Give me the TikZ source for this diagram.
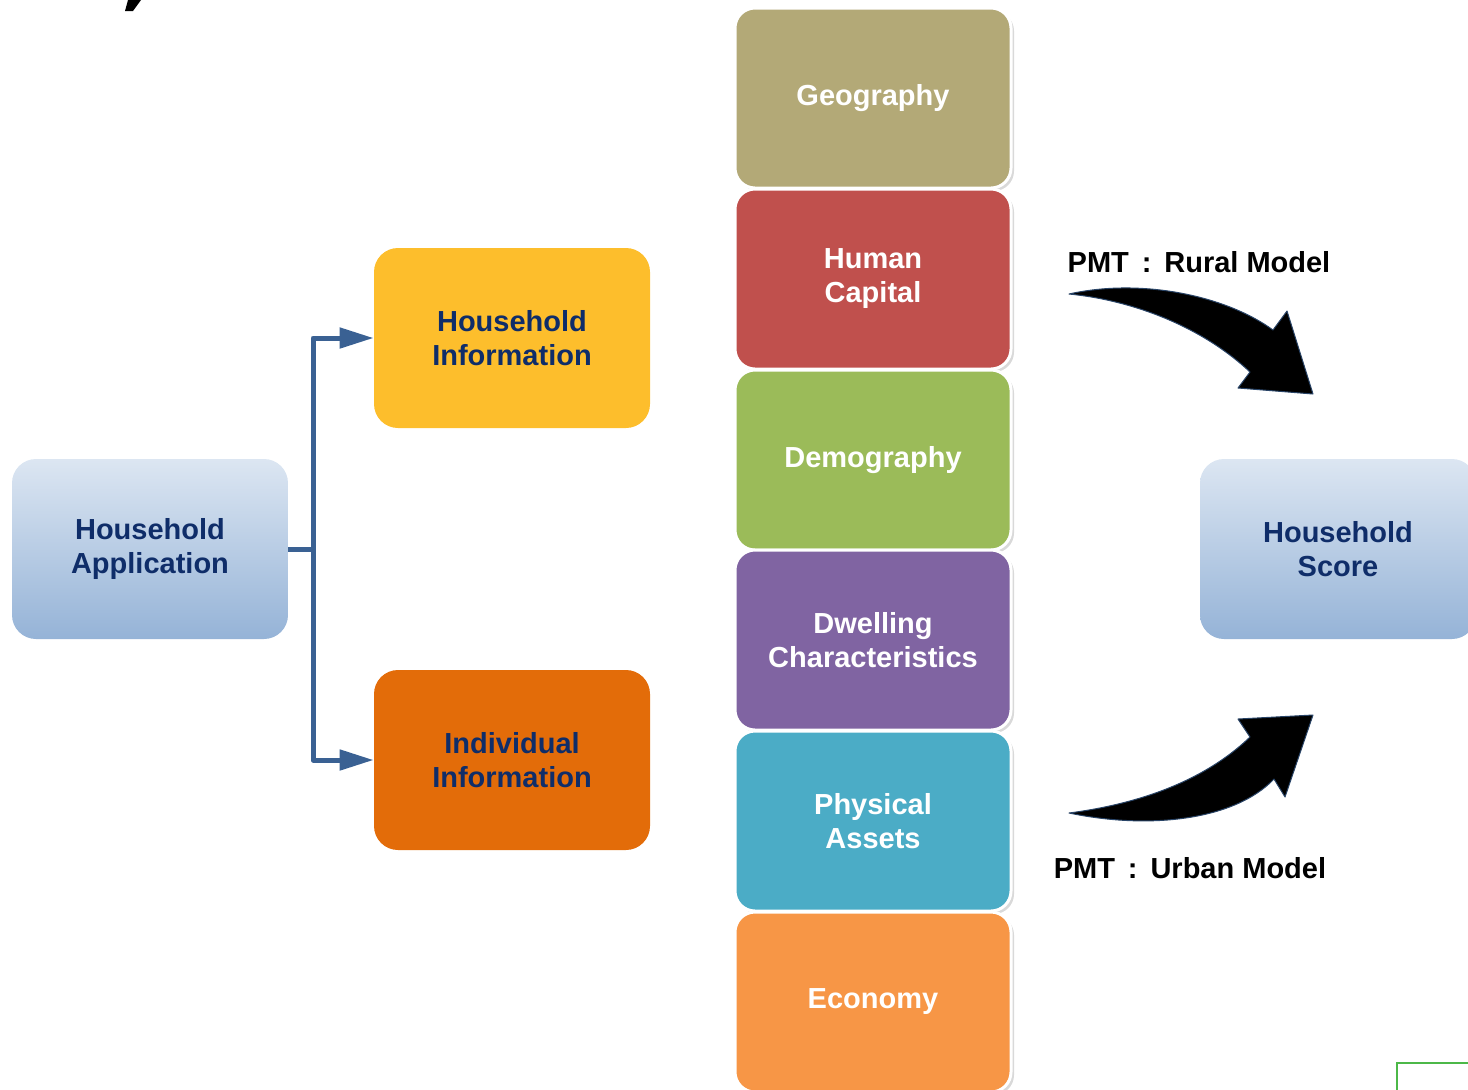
\documentclass[tikz,border=0pt]{standalone}
\usepackage{fontspec}
\setmainfont{Liberation Sans}
\usetikzlibrary{arrows.meta,shadows}
\definecolor{navy}{RGB}{15,45,105}
\definecolor{linkblue}{RGB}{58,97,147}
\definecolor{apptop}{RGB}{220,230,242}
\definecolor{appbot}{RGB}{149,179,215}
\definecolor{hhyellow}{RGB}{253,190,44}
\definecolor{indorange}{RGB}{227,108,9}
\definecolor{geokhaki}{RGB}{179,169,119}
\definecolor{capred}{RGB}{192,80,77}
\definecolor{demogreen}{RGB}{155,187,89}
\definecolor{dwellpurple}{RGB}{128,100,162}
\definecolor{physteal}{RGB}{75,172,198}
\definecolor{econorange}{RGB}{247,150,70}
\definecolor{framegreen}{RGB}{76,184,72}
\tikzset{%
	box/.style={
		rounded corners=12pt, minimum width=138pt, minimum height=90pt,
		inner sep=0pt, align=center, font=\fontsize{14.5}{17}\selectfont\bfseries
	},
	appbox/.style={box, top color=apptop, bottom color=appbot, text=navy},
	infobox/.style={box, fill=#1, text=navy},
	layer/.style={
		box, rounded corners=10pt, fill=#1, draw=white, line width=1.5pt, text=white,
		drop shadow={opacity=0.3, shadow xshift=1.5pt, shadow yshift=-1.5pt}
	},
	link/.style={draw=linkblue, line width=2.5pt, line join=round},
	bigarrow/.style={fill=black, draw=linkblue!70!black, line width=0.5pt, line join=round},
	modeltext/.style={font=\fontsize{14.5}{17}\selectfont\bfseries}
}

\begin{document}
\begin{tikzpicture}[x=0.5pt, y=-0.5pt]
	\useasboundingbox (0,0) rectangle (1468,1089);
	\clip (0,0) rectangle (1468,1089);

	% fragment of the cut-off title
	\fill (128,0) -- (141,0) -- (133,11) -- (125,11) -- cycle;

	% left side
	\node[appbox] (happ) at (150,549) {Household\\Application};
	\node[infobox=hhyellow] (hinfo) at (512,338) {Household\\Information};
	\node[infobox=indorange] (iinfo) at (512,760) {Individual\\Information};

	\coordinate (fork) at (313,549);
	\draw[link] (happ.east) -- (fork);
	\draw[link, -{Triangle[length=17pt, width=10pt]}] (fork) |- (hinfo.west);
	\draw[link, -{Triangle[length=17pt, width=10pt]}] (fork) |- (iinfo.west);

	% middle column
	\node[layer=geokhaki]    (geo)   at (873,98)   {Geography};
	\node[layer=capred]      (hcap)  at (873,279)  {Human\\Capital};
	\node[layer=demogreen]   (demo)  at (873,460)  {Demography};
	\node[layer=dwellpurple] (dwell) at (873,640)  {Dwelling\\Characteristics};
	\node[layer=physteal]    (phys)  at (873,821)  {Physical\\Assets};
	\node[layer=econorange]  (econ)  at (873,1002) {Economy};

	% right side
	\node[appbox] (hscore) at (1338,549) {Household\\Score};

	\node[modeltext] (rural) at (1199,262) {PMT\, : \,Rural Model};
	\node[modeltext] (urban) at (1190,868) {PMT\, : \,Urban Model};

	\draw[bigarrow] (1069,294) .. controls (1140,278) and (1225,295) .. (1273,330)
		-- (1287,311) -- (1313,394) -- (1238,388) -- (1250,372)
		.. controls (1200,325) and (1130,300) .. (1069,294) -- cycle;
	\draw[bigarrow] (1069,813) .. controls (1150,830) and (1235,820) .. (1274,779)
		-- (1285,797) -- (1313,715) -- (1238,719) -- (1250,737)
		.. controls (1200,785) and (1130,805) .. (1069,813) -- cycle;

	% corner of the next frame
	\draw[framegreen, line width=1pt] (1397,1100) -- (1397,1063) -- (1480,1063);
\end{tikzpicture}
\end{document}
